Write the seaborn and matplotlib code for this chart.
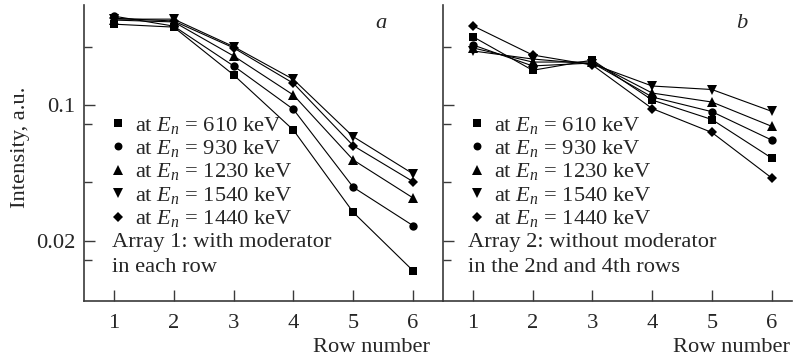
import matplotlib
matplotlib.use("Agg")
import matplotlib.pyplot as plt
from matplotlib.lines import Line2D
from matplotlib.ticker import FixedLocator, NullFormatter, FixedFormatter
import seaborn as sns
import pandas as pd
import numpy as np

# ---- data ----
rows = [1, 2, 3, 4, 5, 6]
energies = ["610", "930", "1230", "1540", "1440"]
markers = ["s", "o", "^", "v", "D"]

# Array 1 (panel a)
a_610 = [0.261, 0.252, 0.143, 0.0743, 0.0280, 0.0140]
a_930 = [0.287, 0.255, 0.159, 0.0950, 0.0377, 0.0239]
a_1230 = [0.274, 0.268, 0.179, 0.1126, 0.0521, 0.0332]
a_1540 = [0.277, 0.277, 0.200, 0.1355, 0.0687, 0.0442]
a_1440 = [0.280, 0.271, 0.197, 0.1294, 0.0617, 0.0403]

# Array 2 (panel b)
b_610 = [0.225, 0.151, 0.1705, 0.1061, 0.0842, 0.0533]
b_930 = [0.204, 0.159, 0.1646, 0.1100, 0.0924, 0.0660]
b_1230 = [0.197, 0.1665, 0.1665, 0.1153, 0.1036, 0.0777]
b_1540 = [0.190, 0.1726, 0.1626, 0.1253, 0.1202, 0.0928]
b_1440 = [0.256, 0.181, 0.1607, 0.0959, 0.0722, 0.0421]

y_major = [0.1, 0.02]
y_major_labels = ["0.1", "0.02"]
y_minor = [0.2, 0.08, 0.04, 0.016]

legend_labels = [r"at $E_n$ = %s keV" % e for e in energies]
note_a = ["Array 1: with moderator", "in each row"]
note_b = ["Array 2: without moderator", "in the 2nd and 4th rows"]

series_a = [a_610, a_930, a_1230, a_1540, a_1440]
series_b = [b_610, b_930, b_1230, b_1540, b_1440]

def to_df(series):
    recs = []
    for e, vals in zip(energies, series):
        for r, v in zip(rows, vals):
            recs.append({"row": r, "intensity": v, "energy": e})
    return pd.DataFrame(recs)

df_a = to_df(series_a)
df_b = to_df(series_b)

# ---- style ----
sns.set_style("ticks")
plt.rcParams["font.family"] = ["Liberation Serif", "DejaVu Serif"]
plt.rcParams["mathtext.fontset"] = "custom"
plt.rcParams["mathtext.rm"] = "Liberation Serif"
plt.rcParams["mathtext.it"] = "Liberation Serif:italic"
plt.rcParams["mathtext.bf"] = "Liberation Serif:bold"

FS = 16.2
spine_col = "#3a3a3a"
msizes = {"s": 6, "o": 6, "^": 7, "v": 7, "D": 5.5}

fig = plt.figure(figsize=(7.93, 3.6), dpi=100)
bottom = 1 - 301 / 360
top = 1 - 5 / 360
xa0, xa1 = 84 / 793, 443 / 793
xb1 = 792 / 793
ax_a = fig.add_axes([xa0, bottom, xa1 - xa0, top - bottom])
ax_b = fig.add_axes([xa1, bottom, xb1 - xa1, top - bottom])

for ax, df, xlim in [(ax_a, df_a, (0.5, 6.5)), (ax_b, df_b, (0.5, 6.34))]:
    for e, m in zip(energies, markers):
        sub = df[df["energy"] == e]
        sns.lineplot(data=sub, x="row", y="intensity", ax=ax, color="black",
                     marker=m, markersize=msizes[m], markeredgewidth=0,
                     linewidth=0.8, legend=False)
    ax.set_yscale("log")
    ax.set_ylim(0.00978, 0.3276)
    ax.set_xlim(*xlim)
    ax.set_xticks(rows)
    ax.set_xticklabels([str(r) for r in rows], fontsize=FS)
    ax.yaxis.set_major_locator(FixedLocator(y_major))
    ax.yaxis.set_minor_locator(FixedLocator(y_minor))
    ax.yaxis.set_minor_formatter(NullFormatter())
    ax.tick_params(axis="x", direction="in", length=8, width=1.0, color=spine_col, pad=9)
    ax.tick_params(axis="y", which="major", direction="in", length=8, width=1.0, color=spine_col, pad=6, labelsize=FS)
    ax.tick_params(axis="y", which="minor", direction="in", length=5.5, width=1.0, color=spine_col)
    for s in ["top", "right"]:
        ax.spines[s].set_visible(False)
    for s in ["left", "bottom"]:
        ax.spines[s].set_color(spine_col)
        ax.spines[s].set_linewidth(1.2)
    ax.set_xlabel("")
    ax.set_ylabel("")
    ax.patch.set_alpha(0)

ax_a.yaxis.set_major_formatter(FixedFormatter(y_major_labels))
ax_b.yaxis.set_major_formatter(NullFormatter())
ax_b.tick_params(axis="y", which="both", labelleft=False)

ax_a.set_ylabel("Intensity, a.u.", fontsize=FS)
ax_a.yaxis.set_label_coords(-0.15, 0.52)

fig.text(430 / 793, 1 - 347 / 360, "Row number", ha="right", va="center", fontsize=FS)
fig.text(790 / 793, 1 - 347 / 360, "Row number", ha="right", va="center", fontsize=FS)
fig.text(381 / 793, 1 - 23 / 360, "a", ha="center", va="center", fontsize=FS, style="italic")
fig.text(742 / 793, 1 - 23 / 360, "b", ha="center", va="center", fontsize=FS, style="italic")

handles = [Line2D([], [], color="black", marker=m, linestyle="none",
                  markersize=msizes[m] * 0.95, markeredgewidth=0) for m in markers]

for ax, note, lx, nx in [(ax_a, note_a, 0.075, 0.078), (ax_b, note_b, 0.078, 0.071)]:
    ax.legend(handles, legend_labels, loc="upper left", bbox_to_anchor=(lx, 0.63),
              frameon=False, fontsize=FS, handlelength=0.6, handletextpad=0.45,
              labelspacing=0.11, borderpad=0, borderaxespad=0)
    ax.text(nx, (301 - 243) / 296, note[0], transform=ax.transAxes, ha="left", va="center", fontsize=FS)
    ax.text(nx, (301 - 267) / 296, note[1], transform=ax.transAxes, ha="left", va="center", fontsize=FS)

fig.savefig("out.png", dpi=100)
